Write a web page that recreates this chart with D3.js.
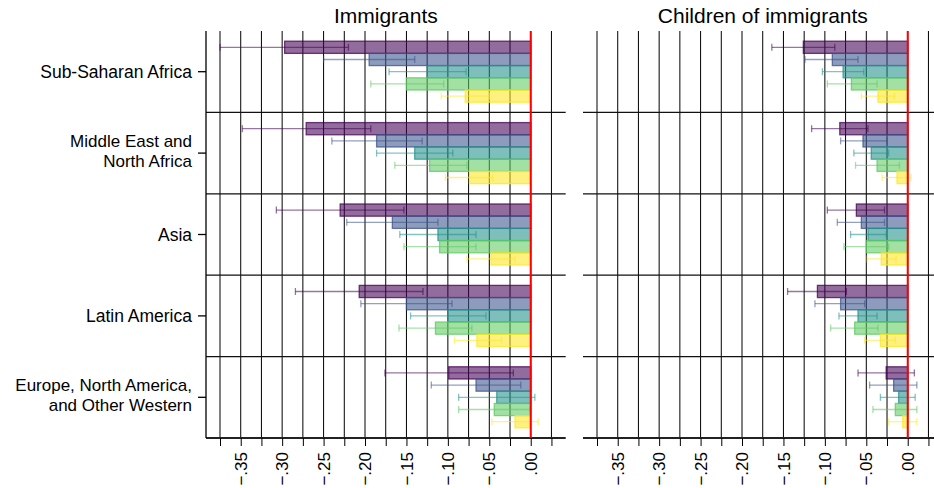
<!DOCTYPE html>
<html>
<head>
<meta charset="utf-8">
<script src="https://cdn.jsdelivr.net/npm/d3@7"></script>
<style>
  html, body { margin: 0; padding: 0; background: #fff; }
  svg { display: block; font-family: "Liberation Sans", Arial, sans-serif; }
</style>
</head>
<body>
<svg id="chart" width="934" height="488"></svg>
<script>
// ---------------- data ----------------
const categories = [
  "Sub-Saharan Africa",
  "Middle East and North Africa",
  "Asia",
  "Latin America",
  "Europe, North America, and Other Western"
];
const categoryLines = [
  ["Sub-Saharan Africa"],
  ["Middle East and", "North Africa"],
  ["Asia"],
  ["Latin America"],
  ["Europe, North America,", "and Other Western"]
];
const seriesKeys = ["s1", "s2", "s3", "s4", "s5"];
const panelTitles = ["Immigrants", "Children of immigrants"];

// Immigrants: point estimates and CI bounds (rows = categories, cols = series)
const immEst = [
  [-0.297, -0.195, -0.125, -0.150, -0.079],
  [-0.271, -0.186, -0.140, -0.122, -0.074],
  [-0.230, -0.167, -0.112, -0.110, -0.048],
  [-0.207, -0.150, -0.100, -0.115, -0.065],
  [-0.099, -0.066, -0.041, -0.044, -0.019]
];
const immLow = [
  [-0.375, -0.250, -0.171, -0.193, -0.108],
  [-0.348, -0.240, -0.186, -0.164, -0.103],
  [-0.307, -0.222, -0.158, -0.153, -0.077],
  [-0.284, -0.205, -0.145, -0.159, -0.092],
  [-0.176, -0.120, -0.087, -0.087, -0.047]
];
const immHigh = [
  [-0.220, -0.140, -0.078, -0.105, -0.050],
  [-0.193, -0.131, -0.094, -0.077, -0.046],
  [-0.153, -0.112, -0.066, -0.066, -0.019],
  [-0.130, -0.095, -0.054, -0.071, -0.035],
  [-0.021, -0.012,  0.005, -0.001,  0.009]
];

// Children of immigrants
const chiEst = [
  [-0.126, -0.091, -0.078, -0.068, -0.036],
  [-0.082, -0.054, -0.044, -0.037, -0.013],
  [-0.062, -0.056, -0.048, -0.050, -0.032],
  [-0.109, -0.081, -0.060, -0.064, -0.033],
  [-0.026, -0.017, -0.011, -0.015, -0.006]
];
const chiLow = [
  [-0.164, -0.124, -0.103, -0.097, -0.056],
  [-0.116, -0.081, -0.065, -0.063, -0.031],
  [-0.097, -0.085, -0.069, -0.077, -0.049],
  [-0.145, -0.112, -0.083, -0.093, -0.052],
  [-0.060, -0.046, -0.033, -0.042, -0.023]
];
const chiHigh = [
  [-0.088, -0.060, -0.053, -0.037, -0.016],
  [-0.048, -0.025, -0.023, -0.010,  0.004],
  [-0.028, -0.028, -0.026, -0.023, -0.014],
  [-0.074, -0.052, -0.037, -0.036, -0.015],
  [ 0.008,  0.011,  0.009,  0.011,  0.011]
];

const tickLabels = [-0.35, -0.30, -0.25, -0.20, -0.15, -0.10, -0.05, 0.00];
const gridValues = [-0.375, -0.35, -0.325, -0.30, -0.275, -0.25, -0.225, -0.20, -0.175,
                    -0.15, -0.125, -0.10, -0.075, -0.05, -0.025, 0.00, 0.025];

// ---------------- styles ----------------
const colors = ["#440154", "#3b528b", "#21918c", "#5ec962", "#fde725"];
const panels = [
  { title: panelTitles[0], est: immEst, lo: immLow, hi: immHigh, x0: 206, x1: 565.7 },
  { title: panelTitles[1], est: chiEst, lo: chiLow, hi: chiHigh, x0: 583, x1: 942.7 }
];
const yTop = 31, yBot = 438;

const svg = d3.select("#chart");

const yGroup = d3.scaleBand().domain(categories).range([yTop, yBot]).padding(0);
const gh = yGroup.bandwidth();
const ySeries = d3.scaleBand().domain(seriesKeys).range([gh * 0.125, gh * 0.875]).padding(0);

const fmt = v => {
  if (v === 0) return ".00";
  const s = Math.abs(v).toFixed(2).replace(/^0/, "");
  return (v < 0 ? "\u2212" : "") + s;
};

panels.forEach((p, pi) => {
  const x = d3.scaleLinear().domain([-0.3919, 0.0422]).range([p.x0, p.x1]);
  const g = svg.append("g");

  // vertical gridlines
  g.selectAll("line.grid").data(gridValues).join("line")
    .attr("class", "grid")
    .attr("x1", d => x(d)).attr("x2", d => x(d))
    .attr("y1", yTop).attr("y2", yBot)
    .attr("stroke", "#000").attr("stroke-width", 1);

  // horizontal dividers between groups
  g.selectAll("line.div").data(categories.slice(1)).join("line")
    .attr("class", "div")
    .attr("x1", p.x0).attr("x2", p.x1)
    .attr("y1", d => yGroup(d)).attr("y2", d => yGroup(d))
    .attr("stroke", "#111").attr("stroke-width", 1.3);

  // bottom axis
  const axis = d3.axisBottom(x).tickValues(gridValues).tickSize(8).tickFormat("");
  const ax = g.append("g").attr("transform", `translate(0,${yBot})`).call(axis);
  ax.select(".domain").attr("stroke", "#222").attr("stroke-width", 2)
    .attr("d", `M${p.x0},0H${p.x1}`);
  ax.selectAll(".tick line").attr("stroke", "#000").attr("stroke-width", 1);

  g.selectAll("text.tl").data(tickLabels).join("text")
    .attr("class", "tl")
    .attr("transform", d => `translate(${x(d)},${yBot + 14}) rotate(-90)`)
    .attr("text-anchor", "end").attr("dy", "0.36em")
    .attr("font-size", 17).attr("fill", "#000")
    .text(d => fmt(d));

  // bars
  categories.forEach((c, ci) => {
    const gy = yGroup(c);
    seriesKeys.forEach((s, si) => {
      const v = p.est[ci][si];
      const by = gy + ySeries(s);
      const bh = ySeries.bandwidth();
      g.append("rect")
        .attr("x", Math.min(x(v), x(0))).attr("width", Math.abs(x(0) - x(v)))
        .attr("y", by).attr("height", bh)
        .attr("fill", colors[si]).attr("fill-opacity", 0.58)
        .attr("stroke", colors[si]).attr("stroke-opacity", 0.75).attr("stroke-width", 1.3);
    });
  });

  // error bars
  categories.forEach((c, ci) => {
    const gy = yGroup(c);
    seriesKeys.forEach((s, si) => {
      const cy = gy + ySeries(s) + ySeries.bandwidth() / 2;
      const lo = x(p.lo[ci][si]), hi = x(p.hi[ci][si]);
      const eg = g.append("g").attr("stroke", colors[si]).attr("stroke-opacity", 0.55).attr("stroke-width", 1.3);
      eg.append("line").attr("x1", lo).attr("x2", hi).attr("y1", cy).attr("y2", cy);
      eg.append("line").attr("x1", lo).attr("x2", lo).attr("y1", cy - 3.5).attr("y2", cy + 3.5);
      eg.append("line").attr("x1", hi).attr("x2", hi).attr("y1", cy - 3.5).attr("y2", cy + 3.5);
    });
  });

  // zero line
  g.append("line").attr("x1", x(0)).attr("x2", x(0)).attr("y1", yTop).attr("y2", yBot)
    .attr("stroke", "#ff0000").attr("stroke-width", 2);

  // title
  g.append("text").attr("x", (p.x0 + p.x1) / 2).attr("y", 23)
    .attr("text-anchor", "middle").attr("font-size", 21).attr("fill", "#000")
    .text(p.title);

  // left axis (only first panel)
  if (pi === 0) {
    g.append("line").attr("x1", p.x0).attr("x2", p.x0).attr("y1", yTop).attr("y2", yBot)
      .attr("stroke", "#000").attr("stroke-width", 1.3);
    categories.forEach((c, ci) => {
      const cy = yGroup(c) + gh / 2;
      g.append("line").attr("x1", p.x0 - 8).attr("x2", p.x0).attr("y1", cy).attr("y2", cy)
        .attr("stroke", "#000").attr("stroke-width", 1.3);
      const lines = categoryLines[ci];
      if (lines.length === 1) {
        g.append("text").attr("x", 192).attr("text-anchor", "end")
          .attr("font-size", 17.5).attr("fill", "#000")
          .attr("y", cy).attr("dy", "0.36em").text(lines[0]);
      } else {
        g.append("text").attr("x", 192).attr("text-anchor", "end")
          .attr("font-size", 17).attr("fill", "#000")
          .attr("y", cy - 6).text(lines[0]);
        g.append("text").attr("x", 192).attr("text-anchor", "end")
          .attr("font-size", 17).attr("fill", "#000")
          .attr("y", cy + 13.5).text(lines[1]);
      }
    });
  }
});
</script>
</body>
</html>
